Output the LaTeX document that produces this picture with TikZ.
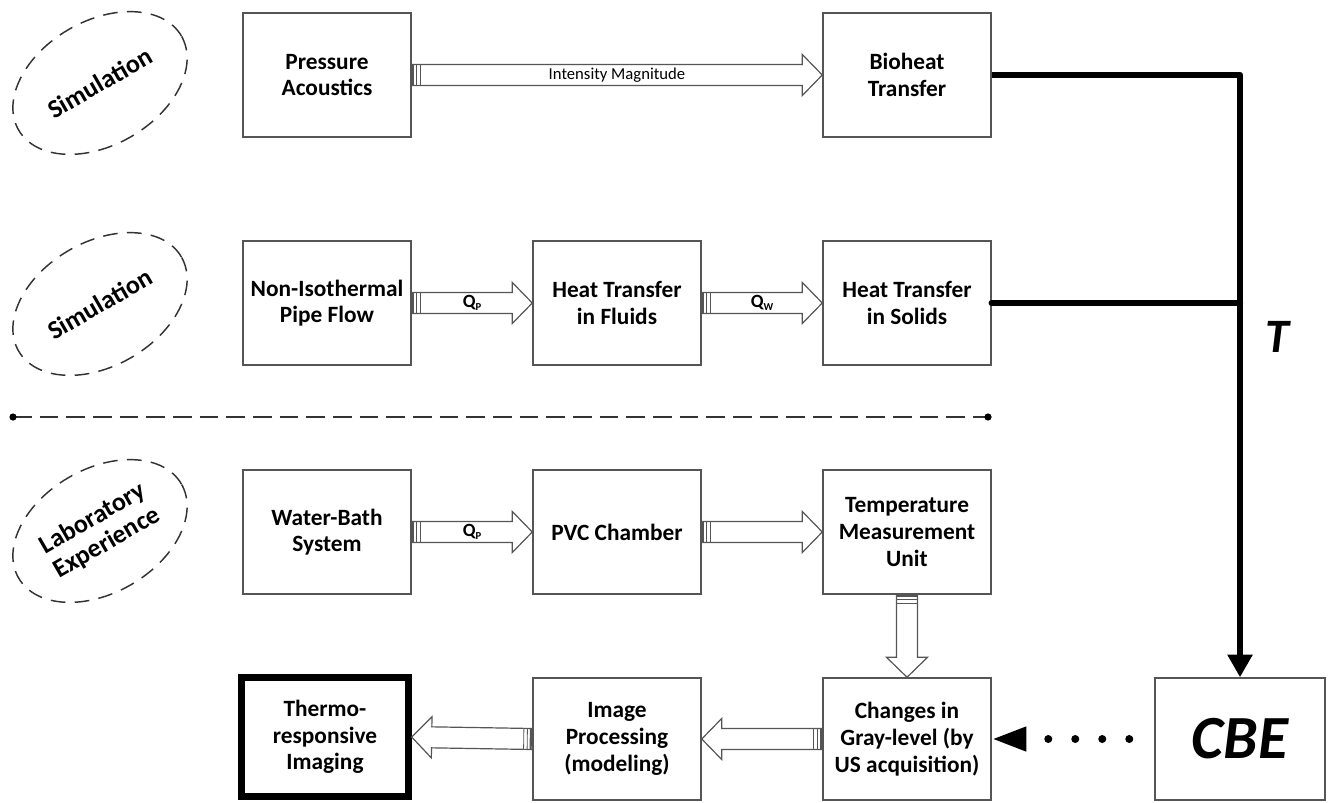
\documentclass[tikz,border=0pt]{standalone}
\usepackage{fontspec}
\setmainfont{Carlito}
\usetikzlibrary{calc,shapes.geometric,arrows.meta}
\definecolor{boxgray}{HTML}{555555}
\definecolor{dashgray}{HTML}{333333}
\newcommand\blockarrow[2]{%
  \coordinate (bahead) at ($(#2)!15pt!(#1)$);
  \draw[blk] ($(#1)!7.875pt!90:(#2)$) -- ($(bahead)!7.875pt!-90:(#1)$) -- ($(bahead)!15.4pt!-90:(#1)$) -- (#2)
     -- ($(bahead)!15.4pt!90:(#1)$) -- ($(bahead)!7.875pt!90:(#1)$) -- ($(#1)!7.875pt!-90:(#2)$) -- cycle;
  \coordinate (bast1) at ($(#1)!1.1pt!(#2)$);
  \coordinate (bast2) at ($(#1)!3.75pt!(#2)$);
  \coordinate (bast3) at ($(#1)!6.4pt!(#2)$);
  \draw[blk, line width=1.6pt] ($(bast1)!7.875pt!90:(#2)$) -- ($(bast1)!7.875pt!-90:(#2)$);
  \draw[blk, line width=0.6pt] ($(bast2)!7.875pt!90:(#2)$) -- ($(bast2)!7.875pt!-90:(#2)$);
  \draw[blk, line width=0.6pt] ($(bast3)!7.875pt!90:(#2)$) -- ($(bast3)!7.875pt!-90:(#2)$);
}
\begin{document}
\begin{tikzpicture}[x=0.75pt,y=-0.75pt,
  box/.style={draw=boxgray, line width=1.1pt, minimum width=126pt, minimum height=93pt,
    align=center, inner sep=2pt, font=\fontsize{17.5}{20}\selectfont\bfseries},
  rowfour/.style={minimum height=91.5pt},
  blk/.style={draw=boxgray, line width=0.9pt, fill=white, line join=miter},
  ell/.style={ellipse, draw=dashgray, line width=1.1pt, dash pattern=on 11pt off 7pt,
    minimum width=141pt, minimum height=93pt, inner sep=0pt, align=center,
    font=\fontsize{19.5}{21}\selectfont\bfseries},
  lbl/.style={font=\fontsize{12.5}{14}\selectfont, text=black, inner sep=1pt},
  qlbl/.style={font=\fontsize{14}{15}\selectfont\bfseries, inner sep=1pt},
  tl/.style={line width=4.8pt, line join=round},
  sep/.style={draw=dashgray, line width=1.1pt, dash pattern=on 14pt off 6pt}
]
\useasboundingbox (0,0) rectangle (1335,803);

% ellipses
\node[ell, rotate=30] (e1) at (100,83) {Simulation};
\node[ell, rotate=30] (e2) at (100,304) {Simulation};
\node[ell, rotate=30] (e3) at (100,531) {Laboratory\\Experience};

% boxes
\node[box] (pa) at (327,75) {Pressure\\Acoustics};
\node[box] (ba) at (907,75) {Bioheat\\Transfer};
\node[box] (np) at (327,303) {Non-Isothermal\\Pipe Flow};
\node[box] (hf) at (617,303) {Heat Transfer\\in Fluids};
\node[box] (hs) at (907,303) {Heat Transfer\\in Solids};
\node[box] (wb) at (327,532) {Water-Bath\\System};
\node[box] (pvc) at (617,532) {PVC Chamber};
\node[box] (tm) at (907,532) {Temperature\\Measurement\\Unit};
\node[box, draw=black, line width=5pt, minimum width=125pt, minimum height=89pt] (tr) at (325,737) {Thermo-\\responsive\\Imaging};
\node[box, rowfour] (ip) at (617,739) {Image\\Processing\\(modeling)};
\node[box, rowfour] (cg) at (907,739) {Changes in\\Gray-level (by\\US acquisition)};
\node[box, rowfour, minimum width=127.5pt, font=\fontsize{46}{50}\selectfont\bfseries\itshape] (cbe) at (1240,739) {CBE};

% block arrows
\blockarrow{pa.east}{ba.west}
\blockarrow{np.east}{hf.west}
\blockarrow{hf.east}{hs.west}
\blockarrow{wb.east}{pvc.west}
\blockarrow{pvc.east}{tm.west}
\blockarrow{tm.south}{cg.north}
\blockarrow{cg.west}{ip.east}
\blockarrow{ip.west}{tr.east}

% arrow labels
\node[lbl] at ($(pa.east)!0.5!(ba.west)$) {Intensity Magnitude};
\node[qlbl] at ($(np.east)!0.5!(hf.west)$) {Q\raisebox{-0.35ex}{\fontsize{8}{8}\selectfont P}};
\node[qlbl] at ($(hf.east)!0.5!(hs.west)$) {Q\raisebox{-0.35ex}{\fontsize{8}{8}\selectfont W}};
\node[qlbl] at ($(wb.east)!0.5!(pvc.west)$) {Q\raisebox{-0.35ex}{\fontsize{8}{8}\selectfont P}};

% thick T connectors
\draw[tl, -{Triangle[length=17pt,width=18pt]}] (ba.east) -- (ba.east -| cbe.north) -- (cbe.north);
\draw[tl, line cap=round] (hs.east) -- (hs.east -| cbe.north);
\node[font=\fontsize{36}{40}\selectfont\bfseries\itshape] (T) at (1277,337) {T};

% dotted arrow CBE -> changes
\draw[line width=6pt, line cap=round, dash pattern=on 0pt off 20.25pt, dash phase=1.5pt,
  -{Triangle[length=26pt,width=17pt]}] (cbe.west) -- (cg.east);

% separator
\coordinate (d1) at (13,417);
\coordinate (d2) at (988,417);
\draw[sep] (d1) -- (d2);
\fill (d1) circle[radius=2.7pt];
\fill (d2) circle[radius=2.7pt];
\end{tikzpicture}
\end{document}
